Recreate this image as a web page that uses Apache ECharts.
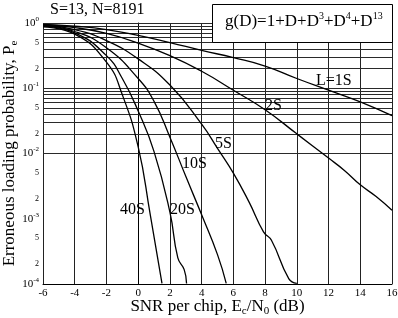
<!DOCTYPE html>
<html><head><meta charset="utf-8">
<script src="https://cdn.jsdelivr.net/npm/echarts@6/dist/echarts.min.js"></script>
<style>html,body{margin:0;padding:0;background:#fff}#c{width:398px;height:318px}</style>
</head><body><div id="c"></div>
<script>
// ---- data ----
const xTicks = [-6,-4,-2,0,2,4,6,8,10,12,14,16];
const yMajor = [1e-4,1e-3,1e-2,1e-1,1];
const yMinorLabelled = [2e-4,5e-4,2e-3,5e-3,2e-2,5e-2,2e-1,5e-1];
const yMinor = [2e-4,3e-4,4e-4,5e-4,6e-4,7e-4,8e-4,9e-4,2e-3,3e-3,4e-3,5e-3,6e-3,7e-3,8e-3,9e-3,
  2e-2,3e-2,4e-2,5e-2,6e-2,7e-2,8e-2,9e-2,0.2,0.3,0.4,0.5,0.6,0.7,0.8,0.9];

const snr1S  = [-6,-4,-2,0,2,4,6,8,10,12,14,16];
const pe1S   = [0.955,0.891,0.794,0.646,0.501,0.380,0.295,0.219,0.141,0.0933,0.0617,0.038];
const snr2S  = [-6,-4,-2,0,2,4,6,8,10,12,13,14,15,16];
const pe2S   = [0.944,0.851,0.692,0.490,0.316,0.182,0.0933,0.0468,0.020,0.00851,0.0055,0.00331,0.00219,0.00135];
const snr5S  = [-6,-4,-2,0,2,4,5,6,7,7.9,8.4,9.5,10];
const pe5S   = [0.923,0.794,0.537,0.282,0.112,0.0282,0.0120,0.00501,0.00178,0.000631,0.000468,0.00012,0.000102];
const snr10S = [-6,-4,-2,0,1,2,3,4,5,5.55];
const pe10S  = [0.912,0.741,0.417,0.141,0.063,0.0178,0.00447,0.00115,0.000282,0.000102];
const snr20S = [-6,-4,-2,-1,0,1,2,2.5,2.9,3.05];
const pe20S  = [0.891,0.708,0.316,0.141,0.0447,0.0107,0.00126,0.000251,0.000166,0.000102];
const snr40S = [-6,-4,-2,-1,0,0.75,1.5];
const pe40S  = [0.871,0.676,0.251,0.0794,0.0126,0.0012,0.000102];

const curveNames = ['L=1S','2S','5S','10S','20S','40S'];
// ------------------------------------

const FONT = '"Liberation Serif","DejaVu Serif",serif';
const zip = (a,b) => a.map((v,i)=>[v,b[i]]);
const curves = [[snr1S,pe1S],[snr2S,pe2S],[snr5S,pe5S],[snr10S,pe10S],[snr20S,pe20S],[snr40S,pe40S]];

const chart = echarts.init(document.getElementById('c'), null, {renderer:'canvas'});

const gridLines = yMajor.concat(yMinor).map(v=>({yAxis:v}));

const series = curves.map((c,i)=>({
  type:'line', name:curveNames[i], data:zip(c[0],c[1]),
  showSymbol:false, smooth:0.5, clip:true,
  lineStyle:{color:'#000', width:1.3}, z:5, silent:true
}));
series.unshift({
  type:'line', data:[], silent:true, z:1,
  markLine:{silent:true, symbol:'none', animation:false,
    label:{show:false},
    lineStyle:{color:'#2a2a2a', width:1, type:'solid'},
    data:gridLines}
});

const supLabel = v => {
  const e = Math.floor(Math.log10(v) + 1e-9);
  const m = Math.round(v/Math.pow(10,e));
  if (m===1) return '{b|10}{s|' + (e===0?'0':e) + '}';
  return '{m|' + m + '}';
};

const nameRich = {i:{fontFamily:FONT,fontSize:17,color:'#000'}, sub:{fontFamily:FONT,fontSize:11,color:'#000',padding:[9,0,0,0]}};

chart.setOption({
  animation:false,
  backgroundColor:'#fff',
  grid:{left:43, right:6, top:23, bottom:34, containLabel:false, outerBoundsMode:'none'},
  xAxis:{type:'value', min:-6, max:16, interval:2,
    axisLine:{lineStyle:{color:'#000',width:1}, onZero:false},
    axisTick:{show:false},
    axisLabel:{color:'#000', fontFamily:FONT, fontSize:11, margin:4},
    splitLine:{show:true, lineStyle:{color:'#222', width:1}},
    name:'SNR per chip, {i|E}{sub|c}{i|/N}{sub|0}{i| (dB)}',
    nameLocation:'middle', nameGap:13, nameMoveOverlap:false,
    nameTextStyle:{color:'#000', fontFamily:FONT, fontSize:17, rich:nameRich}
  },
  yAxis:{type:'log', logBase:10, min:1e-4, max:1,
    axisLine:{lineStyle:{color:'#000',width:1}},
    axisTick:{show:false},
    splitLine:{show:false},
    axisLabel:{color:'#000', fontFamily:FONT, margin:4,
      customValues: yMajor.concat(yMinorLabelled),
      formatter: v => supLabel(v),
      rich:{b:{fontFamily:FONT,fontSize:11,color:'#000'},
            s:{fontFamily:FONT,fontSize:7,color:'#000',padding:[0,0,8,0]},
            m:{fontFamily:FONT,fontSize:8,color:'#000'}}},
    name:'Erroneous loading probability, {i|P}{sub|e}',
    nameLocation:'middle', nameGap:23, nameMoveOverlap:false,
    nameTextStyle:{color:'#000', fontFamily:FONT, fontSize:17, rich:nameRich}
  },
  series:series,
  graphic:[
    {type:'text', left:50, top:2, z:10, style:{text:'S=13, N=8191', font:'16px '+FONT, fill:'#000'}},
    {type:'rect', z:20, shape:{x:212.5, y:4.5, width:180, height:38}, style:{fill:'#fff', stroke:'#000', lineWidth:1}},
    {type:'text', z:21, left:225, top:11, style:{
      text:'{t|g(D)=1+D+D}{s|3}{t|+D}{s|4}{t|+D}{s|13}',
      rich:{t:{font:'17px '+FONT, fill:'#000'}, s:{font:'10px '+FONT, fill:'#000', padding:[0,0,11,0]}}}},
    {type:'text', z:10, left:316, top:73, style:{text:curveNames[0], font:'16px '+FONT, fill:'#000'}},
    {type:'text', z:10, left:265, top:98, style:{text:curveNames[1], font:'16px '+FONT, fill:'#000'}},
    {type:'text', z:10, left:215, top:136, style:{text:curveNames[2], font:'16px '+FONT, fill:'#000'}},
    {type:'text', z:10, left:182, top:156, style:{text:curveNames[3], font:'16px '+FONT, fill:'#000'}},
    {type:'text', z:10, left:170, top:202, style:{text:curveNames[4], font:'16px '+FONT, fill:'#000'}},
    {type:'text', z:10, left:120, top:202, style:{text:curveNames[5], font:'16px '+FONT, fill:'#000'}}
  ]
});
</script></body></html>
